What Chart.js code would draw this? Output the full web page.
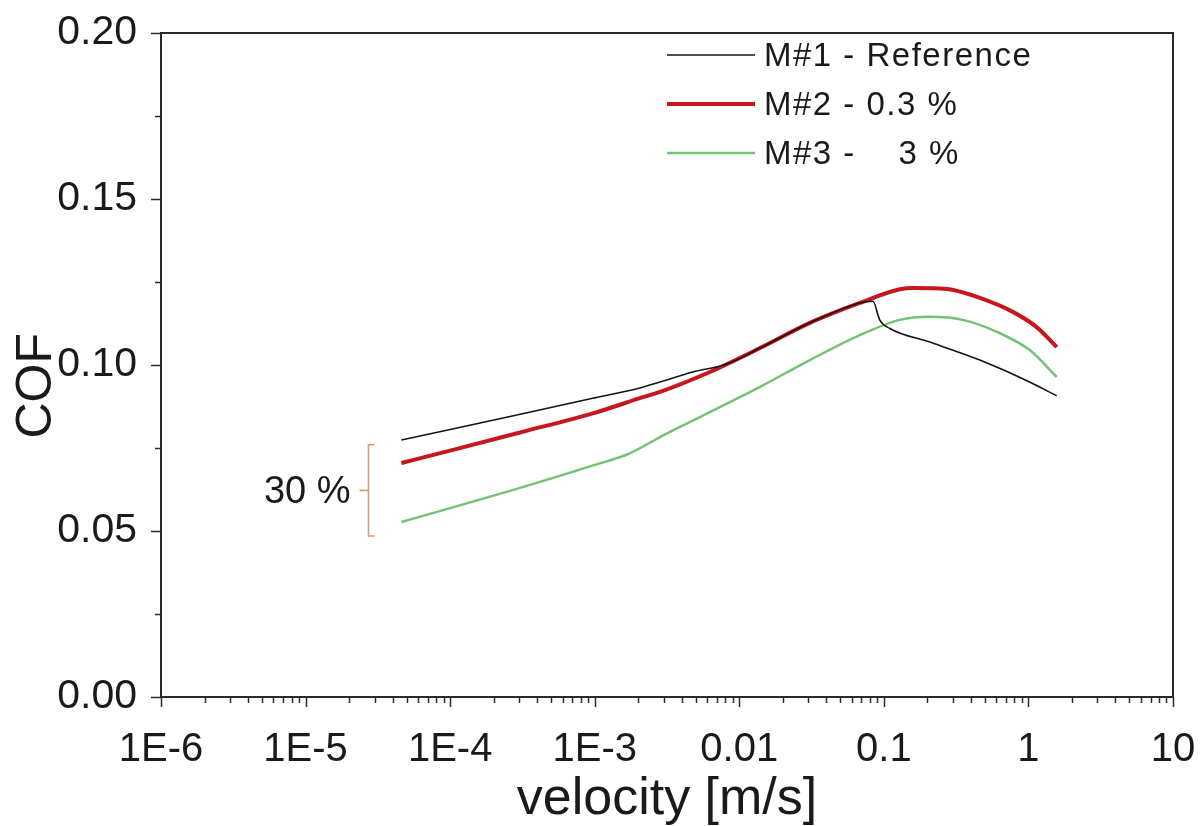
<!DOCTYPE html>
<html>
<head>
<meta charset="utf-8">
<script src="https://cdn.jsdelivr.net/npm/chart.js@4.4.0/dist/chart.umd.min.js"></script>
<style>
  html, body { margin: 0; padding: 0; background: #fff; }
  #wrap { width: 1200px; height: 826px; }
</style>
</head>
<body>
<div id="wrap"><canvas id="chart" width="1200" height="826"></canvas></div>
<script>
const seriesLabels = ['M#1 - Reference', 'M#2 - 0.3 %', 'M#3 -    3 %'];
const seriesColors = ['#141414', '#c8161e', '#74c274'];
const seriesWidths = [1.6, 4, 2.5];

// M#1 - Reference
const velocity1 = [4.6e-5, 1e-4, 3e-4, 1e-3, 2.05e-3, 2.83e-3, 4.77e-3, 8.2e-3, 0.0139, 0.0308, 0.0682, 0.084, 0.0938, 0.110, 0.208, 0.461, 1.02, 1.57];
const cof1 = [0.0774, 0.0806, 0.0851, 0.0901, 0.0931, 0.0949, 0.0979, 0.1003, 0.1051, 0.1127, 0.1187, 0.1192, 0.1135, 0.1110, 0.1069, 0.1015, 0.0949, 0.0907];

// M#2 - 0.3 %
const velocity2 = [4.6e-5, 1e-4, 3e-4, 1e-3, 2.05e-3, 2.83e-3, 6.26e-3, 0.0139, 0.0308, 0.0682, 0.129, 0.159, 0.273, 0.461, 0.780, 1.14, 1.57];
const cof2 = [0.0705, 0.0742, 0.0796, 0.0856, 0.0900, 0.0919, 0.0979, 0.1051, 0.1127, 0.1187, 0.1228, 0.1232, 0.1229, 0.1202, 0.1160, 0.1114, 0.1054];

// M#3 - 3 %
const velocity3 = [4.6e-5, 1e-4, 2.7e-4, 1e-3, 1.75e-3, 2.83e-3, 6.26e-3, 0.0139, 0.0308, 0.0682, 0.129, 0.208, 0.352, 0.604, 1.02, 1.57];
const cof3 = [0.0527, 0.0569, 0.0623, 0.0699, 0.0734, 0.0783, 0.0858, 0.0934, 0.1015, 0.1090, 0.1136, 0.1145, 0.1136, 0.1100, 0.1045, 0.0964];

const xTickValues = [1e-6, 1e-5, 1e-4, 1e-3, 0.01, 0.1, 1, 10];
const xTickLabels = ['1E-6', '1E-5', '1E-4', '1E-3', '0.01', '0.1', '1', '10'];
const yTickValues = [0, 0.05, 0.1, 0.15, 0.2];
const yTickLabels = ['0.00', '0.05', '0.10', '0.15', '0.20'];
const yMinorValues = [0.025, 0.075, 0.125, 0.175];

// bracket marking the 30 % drop at the lowest velocity
const spanLabel = '30 %';
const spanVelocity = 2.7e-5;
const spanTop = 0.076;
const spanBottom = 0.0485;

const FONT = "'Liberation Sans', Arial, sans-serif";
const velocities = [velocity1, velocity2, velocity3];
const cofs = [cof1, cof2, cof3];

const datasets = seriesLabels.map((label, i) => ({
    label: label,
    data: velocities[i].map((v, j) => ({ x: v, y: cofs[i][j] })),
    borderColor: seriesColors[i],
    backgroundColor: seriesColors[i],
    borderWidth: seriesWidths[i],
    pointRadius: 0,
    cubicInterpolationMode: 'monotone',
    fill: false
}));

// keep the plot box fixed, whatever the tick labels measure
function fixBox(size) {
    return scale => {
        if (scale.isHorizontal()) scale.height = size; else scale.width = size;
        scale.paddingLeft = 0;
        scale.paddingRight = 0;
        scale.paddingTop = 0;
        scale.paddingBottom = 0;
    };
}

// frame, tick marks, legend and the 30 % bracket
const decorations = {
    id: 'decorations',
    afterDraw(chart) {
        const ctx = chart.ctx;
        const area = chart.chartArea;
        const xs = chart.scales.x;
        const ys = chart.scales.y;
        ctx.save();

        ctx.strokeStyle = '#2a2a2a';
        ctx.lineWidth = 2;
        ctx.strokeRect(area.left, area.top, area.right - area.left, area.bottom - area.top);

        ctx.lineWidth = 1.5;
        ctx.beginPath();
        for (let d = -6; d <= 1; d++) {
            for (let m = 1; m <= 9; m++) {
                const v = m * Math.pow(10, d);
                if (v > 10.0001) break;
                const px = Math.round(xs.getPixelForValue(v)) + 0.5;
                const len = m === 1 ? 10 : 6;
                ctx.moveTo(px, area.bottom);
                ctx.lineTo(px, area.bottom + len);
            }
        }
        yTickValues.forEach(v => {
            const py = Math.round(ys.getPixelForValue(v)) + 0.5;
            ctx.moveTo(area.left, py);
            ctx.lineTo(area.left - 10, py);
        });
        yMinorValues.forEach(v => {
            const py = Math.round(ys.getPixelForValue(v)) + 0.5;
            ctx.moveTo(area.left, py);
            ctx.lineTo(area.left - 6, py);
        });
        ctx.stroke();

        // legend
        const legendX = 667, lineLen = 88, rowY = [55, 104, 153];
        ctx.font = '33px ' + FONT;
        ctx.letterSpacing = '1.5px';
        ctx.textBaseline = 'middle';
        ctx.textAlign = 'left';
        chart.data.datasets.forEach((ds, i) => {
            ctx.strokeStyle = ds.borderColor;
            ctx.lineWidth = ds.borderWidth;
            ctx.beginPath();
            ctx.moveTo(legendX, rowY[i]);
            ctx.lineTo(legendX + lineLen, rowY[i]);
            ctx.stroke();
            ctx.fillStyle = '#1a1a1a';
            ctx.fillText(ds.label, legendX + lineLen + 9, rowY[i] + 2);
        });
        ctx.letterSpacing = '0px';

        // 30 % bracket
        const bx = Math.round(xs.getPixelForValue(spanVelocity)) + 0.5;
        const bt = ys.getPixelForValue(spanTop);
        const bb = ys.getPixelForValue(spanBottom);
        const bm = (bt + bb) / 2;
        ctx.strokeStyle = '#d2a06e';
        ctx.lineWidth = 1.6;
        ctx.beginPath();
        ctx.moveTo(bx + 6, bt);
        ctx.lineTo(bx, bt);
        ctx.lineTo(bx, bb);
        ctx.lineTo(bx + 6, bb);
        ctx.moveTo(bx, bm);
        ctx.lineTo(bx - 9, bm);
        ctx.stroke();
        ctx.font = '38px ' + FONT;
        ctx.fillStyle = '#1a1a1a';
        ctx.textAlign = 'right';
        ctx.fillText(spanLabel, bx - 18, bm + 2);

        ctx.restore();
    }
};

new Chart(document.getElementById('chart').getContext('2d'), {
    type: 'line',
    data: { datasets: datasets },
    options: {
        responsive: false,
        animation: false,
        layout: { padding: { top: 33, right: 27, left: 0, bottom: 0 } },
        scales: {
            x: {
                type: 'logarithmic',
                min: 1e-6,
                max: 10,
                afterBuildTicks: scale => {
                    scale.ticks = xTickValues.map(v => ({ value: v }));
                },
                afterFit: fixBox(129),
                grid: { display: false, drawTicks: false },
                border: { display: false },
                ticks: {
                    autoSkip: false,
                    maxRotation: 0,
                    padding: 29,
                    color: '#1a1a1a',
                    font: { family: FONT, size: 40 },
                    callback: (value) => {
                        const i = xTickValues.findIndex(t => Math.abs(Math.log10(t) - Math.log10(value)) < 1e-6);
                        return i >= 0 ? xTickLabels[i] : '';
                    }
                },
                title: {
                    display: true,
                    text: 'velocity [m/s]',
                    color: '#1a1a1a',
                    font: { family: FONT, size: 52, lineHeight: 1 },
                    padding: { top: 0, bottom: 0 }
                }
            },
            y: {
                min: 0,
                max: 0.2,
                afterBuildTicks: scale => {
                    scale.ticks = yTickValues.map(v => ({ value: v }));
                },
                afterFit: fixBox(161),
                grid: { display: false, drawTicks: false },
                border: { display: false },
                ticks: {
                    padding: 24,
                    color: '#1a1a1a',
                    font: { family: FONT, size: 41 },
                    callback: (value) => {
                        const i = yTickValues.findIndex(t => Math.abs(t - value) < 1e-9);
                        return i >= 0 ? yTickLabels[i] : '';
                    }
                },
                title: {
                    display: true,
                    text: 'COF   ',
                    color: '#1a1a1a',
                    font: { family: FONT, size: 50, lineHeight: 1 },
                    padding: { top: 12, bottom: 0 }
                }
            }
        },
        plugins: {
            legend: { display: false },
            tooltip: { enabled: false }
        }
    },
    plugins: [decorations]
});
</script>
</body>
</html>
